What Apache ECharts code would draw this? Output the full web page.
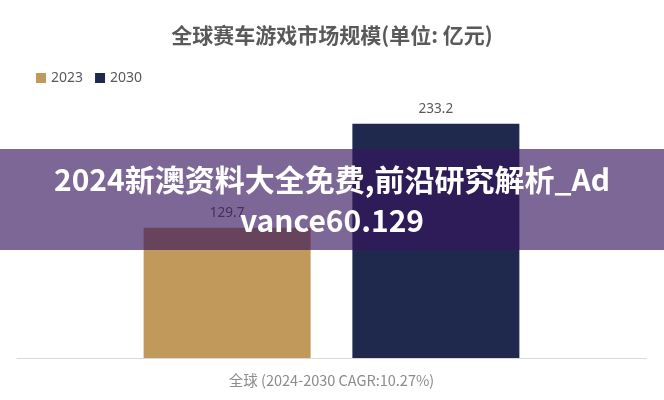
<!DOCTYPE html>
<html>
<head>
<meta charset="utf-8">
<script src="https://cdn.jsdelivr.net/npm/echarts@6/dist/echarts.min.js"></script>
<style>html,body{margin:0;padding:0;background:#fff;}#c{width:664px;height:400px;}</style>
</head>
<body>
<div id="c"></div>
<script>
const categories = ['全球 (2024-2030 CAGR:10.27%)'];
const seriesNames = ['2023', '2030'];
const values2023 = [129.7];
const values2030 = [233.2];
const titleText = '全球赛车游戏市场规模(单位: 亿元)';
const bannerLines = ['2024新澳资料大全免费,前沿研究解析_Ad', 'vance60.129'];

const chart = echarts.init(document.getElementById('c'));
const labelStyle = { show: true, position: 'top', distance: 8, fontSize: 13.5, color: '#595959', fontFamily: 'Noto Sans' };
chart.setOption({
  animation: false,
  backgroundColor: '#ffffff',
  title: {
    text: titleText, left: 'center', top: 20,
    textStyle: { fontSize: 21, fontWeight: 'bold', color: '#595959', fontFamily: 'Noto Sans CJK SC' }
  },
  legend: {
    left: 31, top: 66, icon: 'rect', itemWidth: 10, itemHeight: 10, itemGap: 12,
    textStyle: { fontSize: 14, color: '#595959', fontFamily: 'Noto Sans' },
    data: seriesNames
  },
  grid: { left: 17, right: 18, top: 107, bottom: 42 },
  xAxis: {
    type: 'category', data: categories,
    axisLine: { lineStyle: { color: '#d9d9d9', width: 1 } },
    axisTick: { show: false },
    axisLabel: { fontSize: 14.5, color: '#8c8c8c', margin: 15, fontFamily: 'Noto Sans CJK SC' }
  },
  yAxis: { type: 'value', min: 0, max: 250, show: false, splitLine: { show: false } },
  series: [
    { name: seriesNames[0], type: 'bar', data: values2023, barWidth: 167, barGap: '25%',
      itemStyle: { color: '#c19a5b' }, label: labelStyle },
    { name: seriesNames[1], type: 'bar', data: values2030, barWidth: 167,
      itemStyle: { color: '#1f294e' }, label: labelStyle }
  ],
  graphic: [
    { type: 'rect', z: 100, left: 0, top: 149, shape: { width: 664, height: 101 },
      style: { fill: 'rgba(56,22,94,0.65)' } },
    { type: 'text', z: 101, left: 'center', top: 159,
      style: { text: bannerLines.join('\n'), fill: '#ffffff', fontSize: 30, fontWeight: 'bold',
        fontFamily: 'Noto Sans CJK SC', lineHeight: 41, textAlign: 'center' } }
  ]
});
</script>
</body>
</html>
